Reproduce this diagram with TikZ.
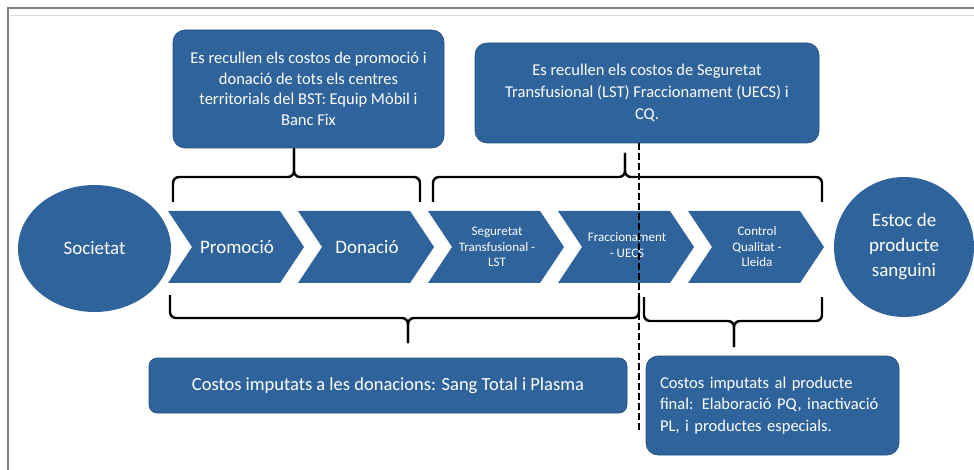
\documentclass[tikz,border=0pt]{standalone}
\usepackage{fontspec}
\setmainfont{Carlito}
\usetikzlibrary{shapes.geometric}

\definecolor{bstblue}{RGB}{47,99,155}
\definecolor{bstedge}{RGB}{36,78,128}

% one arrow step of the chain, left edge at #1
\newcommand{\chevpath}[1]{(#1,211) -- ++(112,0) -- ++(24,36) -- ++(-24,36) -- ++(-112,0) -- ++(24,-36) -- cycle}

\tikzset{
  endpoint/.style={fill=bstblue, text=white, align=center, inner sep=0pt,
    font=\fontsize{19}{25}\selectfont},
  infobox/.style={fill=bstblue, draw=bstedge, line width=0.6pt, text=white,
    rounded corners=12pt, inner sep=0pt, align=center},
  steplabel/.style={text=white, align=center, inner sep=0pt},
  bracket/.style={line width=2.4pt, rounded corners=6pt},
}

\begin{document}
\begin{tikzpicture}[x=1pt, y=-1pt]
  \useasboundingbox (0,0) rectangle (974,470);
  % frame of the scanned page
  \draw[black!15, line width=0.6pt] (10,15) -- (974,15);
  \draw[gray, line width=1.3pt] (8,470) -- (8,8) -- (974,8);

  % ends of the chain
  \node[endpoint, ellipse, minimum width=153pt, minimum height=127pt] (soc) at (94.5,248.5) {Societat};
  \node[endpoint, circle, minimum size=140pt] (estoc) at (904,247) {Estoc de\\producte\\sanguini};

  % chain steps
  \fill[bstblue] \chevpath{168};
  \fill[bstblue] \chevpath{298};
  \fill[bstblue] \chevpath{428};
  \fill[bstblue] \chevpath{558};
  \fill[bstblue] \chevpath{688};
  \node[steplabel, font=\fontsize{19}{25}\selectfont] (promo) at (237,247) {Promoció};
  \node[steplabel, font=\fontsize{19}{25}\selectfont] (donacio) at (367,247) {Donació};
  \node[steplabel, font=\fontsize{13}{15.5}\selectfont] (lst) at (497,247) {Seguretat\\Transfusional -\\LST};
  \node[steplabel, font=\fontsize{13}{15.5}\selectfont] (uecs) at (627,245) {Fraccionament\\- UECS};
  \node[steplabel, font=\fontsize{13}{15.5}\selectfont] (cq) at (757,247) {Control\\Qualitat -\\Lleida};

  % cost boxes
  \node[infobox, minimum width=271pt, minimum height=118pt, font=\fontsize{16.5}{20.5}\selectfont] (top1) at (308.5,89)
    {Es recullen els costos de promoció i\\donació de tots els centres\\territorials del BST: Equip Mòbil i\\Banc Fix};
  \node[infobox, minimum width=344pt, minimum height=100pt, font=\fontsize{16.5}{22}\selectfont] (top2) at (647,93)
    {Es recullen els costos de Seguretat\\Transfusional (LST) Fraccionament (UECS) i\\CQ.};
  \node[infobox, rounded corners=8pt, minimum width=478pt, minimum height=55pt, font=\fontsize{18.5}{22}\selectfont] (bot1) at (388,385.5)
    {Costos imputats a les donacions: Sang Total i Plasma};
  \node[infobox, align=left, text width=225pt, inner xsep=14pt, minimum height=99pt, font=\fontsize{16.5}{21.5}\selectfont] (bot2) at (772.5,405.5)
    {Costos imputats al producte\\final: Elaboració PQ, inactivació\\PL, i productes especials.};

  % braces
  \coordinate (b1l) at (173,202);
  \coordinate (b1m) at (294,177);
  \coordinate (b1r) at (420,202);
  \draw[bracket] (b1l) |- (b1m) -- (top1.south -| b1m);
  \draw[bracket] (top1.south -| b1m) -- (b1m) -| (b1r);

  \coordinate (b2l) at (433,202);
  \coordinate (b2m) at (625,177);
  \coordinate (b2t) at (625,153);
  \coordinate (b2r) at (822,202);
  \draw[bracket] (b2l) |- (b2m) -- (b2t);
  \draw[bracket] (b2t) -- (b2m) -| (b2r);

  \coordinate (b3l) at (170,295);
  \coordinate (b3m) at (408,318);
  \coordinate (b3t) at (408,343);
  \coordinate (b3r) at (639,295);
  \draw[bracket] (b3l) |- (b3m) -- (b3t);
  \draw[bracket] (b3t) -- (b3m) -| (b3r);

  \coordinate (b4l) at (644,297);
  \coordinate (b4m) at (734,321);
  \coordinate (b4t) at (734,347);
  \coordinate (b4r) at (822,297);
  \draw[bracket] (b4l) |- (b4m) -- (b4t);
  \draw[bracket] (b4t) -- (b4m) -| (b4r);

  % split between donation and product costs
  \coordinate (cut) at (639,430);
  \draw[line width=2pt, dash pattern=on 7pt off 3pt] (top2.south -| cut) -- (cut);
\end{tikzpicture}
\end{document}
